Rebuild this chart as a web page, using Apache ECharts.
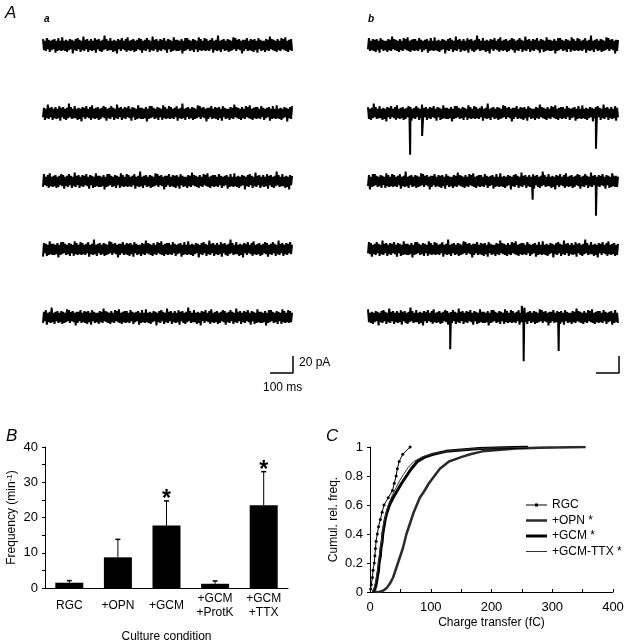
<!DOCTYPE html>
<html>
<head>
<meta charset="utf-8">
<script src="https://cdn.jsdelivr.net/npm/echarts@6/dist/echarts.min.js"></script>
<style>
html,body{margin:0;padding:0;background:#fff;}
#main{width:627px;height:644px;}
</style>
</head>
<body>
<div id="main"></div>
<script>
// A: recorded noise (pA), hand copied pattern, one sample ~4.2 ms
var noise = [
  7,-6,5,-7,8,-5,6,-8,5,-6, 6,-5,7,-9,5,-7,8,-6,5,-7,
  9,-6,5,-7,6,-8,5,-6,7,-5, 6,-10,5,-6,7,-7,8,-5,6,-8,
  5,-6,10,-7,6,-5,7,-8,5,-6, 7,-7,5,-6,8,-9,6,-5,7,-7,
  5,-8,6,-6,11,-5,7,-7,5,-6, 8,-6,5,-8,6,-7,5,-10,7,-5,
  6,-7,8,-5,5,-6,7,-8,9,-6, 5,-7,6,-6,7,-8,5,-7,6,-5,
  8,-6,7,-9,5,-6,6,-7,8,-5, 6,-8,5,-6,10,-7,6,-5,7,-8,
  5,-6,7,-7,6,-5,8,-6,5,-9, 7,-5,6,-8,5,-7,9,-6,6,-7,
  6,-7,5,-6,7,-10,5,-7,8,-6, 8,-5,6,-7,5,-6,7,-8,6,-5,
  5,-8,9,-6,7,-7,5,-6,8,-7, 7,-6,5,-7,6,-5,8,-9,5,-6,
  6,-7,11,-6,5,-8,6,-5,7,-7, 5,-6,7,-8,6,-7,5,-6,9,-5,
  8,-7,6,-5,7,-6,5,-10,6,-7, 6,-5,8,-7,5,-6,7,-7,6,-8,
  7,-6,5,-9,8,-5,6,-7,5,-6, 5,-8,7,-6,6,-7,10,-5,7,-6,
  6,-7,5,-8,7,-6,5,-7,8,-5, 7,-6,9,-7,5,-8,6,-6,7,-7
];
var traceMs = 1090;
var traceGapPa = 80;
var startA = [0, 37, 81, 129, 173];
var startB = [211, 58, 143, 99, 20];
// spontaneous events [time ms, amplitude pA]
var eventsA = [[], [], [], [], []];
var eventsB = [
  [],
  [[183, -49], [235, -27], [990, -42]],
  [[715, -22], [990, -41]],
  [],
  [[357, -38], [668, 13], [676, -52], [828, -40]]
];
var scaleMs = 100, scalePa = 20, scaleBasePa = -386;

// B: frequency per culture condition
var categories = ['RGC', '+OPN', '+GCM', '+GCM\n+ProtK', '+GCM\n+TTX'];
var freqMean = [1.5, 8.7, 17.7, 1.2, 23.5];
var freqErr = [0.6, 5.1, 7.0, 0.8, 9.5];
var freqStar = [0, 0, 1, 0, 1];

// C: cumulative distributions of charge transfer (fC, cumulative freq)
var cdfRGC = [[1,0.02],[2,0.05],[4,0.1],[5,0.15],[7,0.2],[8,0.25],[9,0.3],[10,0.35],[12,0.4],[14,0.45],
  [17,0.5],[20,0.55],[23,0.6],[30,0.65],[37,0.7],[40,0.75],[43,0.8],[45,0.85],[48,0.9],[54,0.95],[66,1]];
var cdfOPN = [[8,0],[15,0],[22,0.01],[28,0.03],[33,0.06],[38,0.1],[42,0.15],[46,0.2],[50,0.25],[54,0.3],
  [57,0.35],[60,0.4],[64,0.45],[68,0.5],[72,0.55],[77,0.6],[82,0.65],[90,0.7],[97,0.75],[106,0.8],
  [115,0.85],[130,0.9],[150,0.93],[165,0.95],[185,0.97],[210,0.98],[240,0.99],[280,0.995],[355,1]];
var cdfGCM = [[5,0],[8,0.02],[10,0.05],[12,0.1],[14,0.15],[15,0.2],[17,0.25],[18,0.3],[20,0.35],[21,0.4],
  [23,0.45],[25,0.5],[28,0.55],[32,0.6],[38,0.65],[45,0.7],[52,0.75],[60,0.8],[68,0.85],[78,0.9],
  [90,0.93],[104,0.95],[125,0.97],[150,0.98],[180,0.99],[220,0.995],[260,1]];
var cdfTTX = [[4,0],[7,0.03],[10,0.08],[12,0.14],[14,0.2],[16,0.27],[18,0.33],[20,0.4],[22,0.46],[25,0.52],
  [28,0.57],[32,0.62],[37,0.67],[43,0.72],[49,0.77],[55,0.81],[63,0.86],[72,0.9],[85,0.93],[100,0.95],
  [125,0.97],[160,0.985],[200,0.993],[250,0.997],[300,1]];

var chart = echarts.init(document.getElementById('main'));

function buildTrace(start, row, events) {
  var n = noise.length, dt = traceMs / n, pts = [];
  for (var i = 0; i < n; i++) {
    pts.push([i * dt, noise[(i + start) % n] - row * traceGapPa]);
  }
  events.forEach(function (e) { pts.push([e[0], e[1] - row * traceGapPa]); });
  pts.sort(function (a, b) { return a[0] - b[0]; });
  return pts;
}

var series = [];
function addTraces(starts, events, axis) {
  for (var k = 0; k < 5; k++) {
    series.push({
      type: 'line', xAxisIndex: axis, yAxisIndex: axis, data: buildTrace(starts[k], k, events[k]),
      symbol: 'none', lineStyle: { color: '#000', width: 2 }, silent: true
    });
  }
  series.push({
    type: 'line', xAxisIndex: axis, yAxisIndex: axis, symbol: 'none',
    lineStyle: { color: '#000', width: 1.5 },
    data: [[traceMs - scaleMs, scaleBasePa], [traceMs, scaleBasePa], [traceMs, scaleBasePa + scalePa]]
  });
}
addTraces(startA, eventsA, 0);
addTraces(startB, eventsB, 1);

series.push({
  type: 'bar', xAxisIndex: 2, yAxisIndex: 2, data: freqMean, barWidth: 28,
  itemStyle: { color: '#000' }
});
series.push({
  type: 'custom', xAxisIndex: 2, yAxisIndex: 2,
  data: freqMean.map(function (m, i) { return [i, m, freqErr[i], freqStar[i]]; }),
  renderItem: function (params, api) {
    var i = api.value(0), m = api.value(1), e = api.value(2);
    var p0 = api.coord([i, m]), p1 = api.coord([i, m + e]);
    var kids = [
      { type: 'line', shape: { x1: p0[0], y1: p0[1], x2: p1[0], y2: p1[1] }, style: { stroke: '#000', lineWidth: 1 } },
      { type: 'line', shape: { x1: p1[0] - 2.5, y1: p1[1], x2: p1[0] + 2.5, y2: p1[1] }, style: { stroke: '#000', lineWidth: 1.5 } }
    ];
    if (api.value(3)) {
      kids.push({ type: 'text', x: p1[0], y: p1[1] - 1, style: {
        text: '*', fill: '#000', font: 'bold 23px "Liberation Sans"', align: 'center', verticalAlign: 'middle' } });
    }
    return { type: 'group', children: kids };
  }
});

function cdf(name, data, width, color, sym) {
  return {
    type: 'line', name: name, xAxisIndex: 3, yAxisIndex: 3, data: data,
    symbol: sym ? 'circle' : 'none', symbolSize: 3, showSymbol: !!sym,
    itemStyle: { color: color }, lineStyle: { color: color, width: width }
  };
}
series.push(cdf('RGC', cdfRGC, 1, '#000', true));
series.push(cdf('+OPN *', cdfOPN, 2.5, '#2a2a2a', false));
series.push(cdf('+GCM *', cdfGCM, 3, '#000', false));
series.push(cdf('+GCM-TTX *', cdfTTX, 1, '#333', false));

// legend icons: a line of the series width inside a 21 x 12 box
function lineIcon(w, dot) {
  var a = 6 - w / 2, b = 6 + w / 2;
  var p = 'path://M0,0 M21,12 M0,' + a + ' L21,' + a + ' L21,' + b + ' L0,' + b + ' Z';
  if (dot) p += ' M9,4.5 L12,4.5 L12,7.5 L9,7.5 Z';
  return p;
}

var axisLine = { lineStyle: { color: '#000', width: 1 } };
var lab = { color: '#000', fontSize: 13, fontFamily: 'Liberation Sans' };

chart.setOption({
  animation: false,
  textStyle: { fontFamily: 'Liberation Sans', color: '#000' },
  grid: [
    { left: 43, top: 28, width: 250, height: 357 },
    { left: 368, top: 28, width: 251, height: 357 },
    { left: 45, top: 447, width: 243, height: 145 },
    { left: 370, top: 447, width: 243, height: 145 }
  ],
  xAxis: [
    { gridIndex: 0, type: 'value', min: 0, max: traceMs, show: false },
    { gridIndex: 1, type: 'value', min: 0, max: traceMs, show: false },
    { gridIndex: 2, type: 'category', data: categories, axisLine: axisLine,
      axisTick: { length: 5, lineStyle: { color: '#000' } },
      axisLabel: { color: '#000', fontSize: 12, margin: 18, verticalAlign: 'middle', lineHeight: 14, interval: 0 },
      name: 'Culture condition', nameLocation: 'middle', nameGap: 43,
      nameTextStyle: { color: '#000', fontSize: 12 } },
    { gridIndex: 3, type: 'value', min: 0, max: 400, interval: 50, axisLine: axisLine,
      axisTick: { inside: true, length: 3, lineStyle: { color: '#000' } },
      splitLine: { show: false },
      axisLabel: Object.assign({ margin: 9, formatter: function (v) { return v % 100 === 0 ? String(v) : ''; } }, lab),
      name: 'Charge transfer (fC)', nameLocation: 'middle', nameGap: 25,
      nameTextStyle: { color: '#000', fontSize: 12 } }
  ],
  yAxis: [
    { gridIndex: 0, type: 'value', min: -400, max: 20, show: false },
    { gridIndex: 1, type: 'value', min: -400, max: 20, show: false },
    { gridIndex: 2, type: 'value', min: 0, max: 40, interval: 5, axisLine: Object.assign({ show: true }, axisLine),
      axisTick: { show: true, length: 3, lineStyle: { color: '#000' } }, splitLine: { show: false },
      axisLabel: Object.assign({ margin: 7, formatter: function (v) { return v % 10 === 0 ? String(v) : ''; } }, lab),
      name: 'Frequency (min{s|-1})', nameLocation: 'middle', nameGap: 27, nameRotate: 90,
      nameTextStyle: { color: '#000', fontSize: 12, rich: { s: { fontSize: 8, verticalAlign: 'top', lineHeight: 8 } } } },
    { gridIndex: 3, type: 'value', min: 0, max: 1, interval: 0.2, axisLine: Object.assign({ show: true }, axisLine),
      axisTick: { show: true, length: 3, lineStyle: { color: '#000' } }, splitLine: { show: false },
      axisLabel: Object.assign({ margin: 7, formatter: function (v) { return String(+v.toFixed(1)); } }, lab),
      name: 'Cumul. rel. freq.', nameLocation: 'middle', nameGap: 30, nameRotate: 90,
      nameTextStyle: { color: '#000', fontSize: 12 } }
  ],
  legend: {
    data: [
      { name: 'RGC', icon: lineIcon(1, true) },
      { name: '+OPN *', icon: lineIcon(2.5) },
      { name: '+GCM *', icon: lineIcon(3) },
      { name: '+GCM-TTX *', icon: lineIcon(1) }
    ],
    orient: 'vertical', left: 521, top: 494, itemWidth: 21, itemHeight: 12, itemGap: 3.5,
    textStyle: { color: '#000', fontSize: 12 }, selectedMode: false
  },
  graphic: [
    { type: 'text', left: 5, top: 5, style: { text: 'A', font: 'italic 17px "Liberation Sans"', fill: '#000' } },
    { type: 'text', left: 44, top: 14, style: { text: 'a', font: 'italic bold 10px "Liberation Sans"', fill: '#000' } },
    { type: 'text', left: 368, top: 14, style: { text: 'b', font: 'italic bold 10px "Liberation Sans"', fill: '#000' } },
    { type: 'text', left: 299, top: 357, style: { text: '20 pA', font: '12px "Liberation Sans"', fill: '#000' } },
    { type: 'text', left: 263, top: 382, style: { text: '100 ms', font: '12px "Liberation Sans"', fill: '#000' } },
    { type: 'text', left: 6, top: 428, style: { text: 'B', font: 'italic 17px "Liberation Sans"', fill: '#000' } },
    { type: 'text', left: 326, top: 428, style: { text: 'C', font: 'italic 17px "Liberation Sans"', fill: '#000' } }
  ],
  series: series
});
</script>
</body>
</html>
